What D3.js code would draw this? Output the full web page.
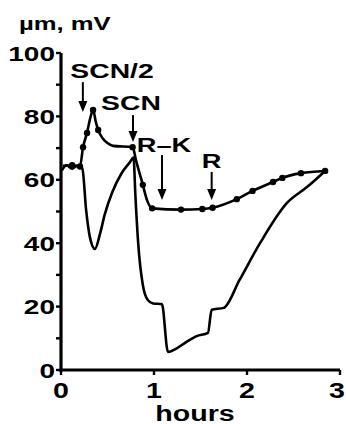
<!DOCTYPE html>
<style>
body { margin: 0; background: #fff; }
svg { display: block; }
.curve { fill: none; stroke: #000; stroke-width: 2.6px; stroke-linejoin: round; }
.lbl { font-family: "Liberation Sans", Arial, sans-serif; font-weight: bold; fill: #000; }
</style>
<svg width="346" height="424"></svg>
<script src="https://d3js.org/d3.v7.min.js"></script>
<script>

// fibre diameter (um), dotted curve
var diamT = [0.02, 0.12, 0.204, 0.237, 0.28, 0.31, 0.345, 0.375, 0.40, 0.445, 0.50, 0.56, 0.77, 0.806, 0.88, 0.925, 0.98, 1.29, 1.52, 1.63, 1.89, 2.06, 2.28, 2.38, 2.58, 2.84];
var diamV = [64.4, 64.6, 64.2, 70.3, 74.8, 78.9, 82, 78.2, 75.7, 73.2, 71.6, 70.7, 70.3, 66.2, 58.4, 53.6, 51, 50.6, 50.8, 51.2, 53.9, 56.5, 59.3, 60.6, 62.1, 62.8];
var diamDot = [0, 1, 1, 1, 1, 0, 1, 0, 1, 0, 0, 0, 1, 0, 1, 0, 1, 1, 1, 1, 1, 1, 1, 1, 1, 1];

// membrane potential (mV), plain curve
var mvT = [0.01, 0.06, 0.12, 0.18, 0.23, 0.27, 0.31, 0.365, 0.42, 0.47, 0.55, 0.65, 0.74, 0.78, 0.80, 0.83, 0.88, 0.935, 0.99, 1.085, 1.15, 1.23, 1.33, 1.46, 1.58, 1.62, 1.75, 1.92, 2.14, 2.43, 2.645, 2.84];
var mvV = [63, 64.6, 63.5, 64.5, 63.5, 50.5, 42, 38.2, 43, 49, 56, 62, 65.5, 67, 55, 40, 26.8, 22, 21, 20.8, 5.7, 6.6, 8.5, 10.7, 11.7, 19, 19.6, 28.4, 40, 52.7, 57.7, 62.8];

// annotations: label, time of arrow, arrow top / tip (axis units)
var noteLabel = ["SCN/2", "SCN", "R\u2013K", "R"];
var noteT = [0.235, 0.774, 1.086, 1.62];
var noteTop = [90.8, 80.4, 67.8, 62.5];
var noteTip = [81.4, 71.9, 53.6, 53.6];

var xTicks = [0, 1, 2, 3];
var yTicks = [0, 20, 40, 60, 80, 100];
var yMinor = [10, 30, 50, 70, 90];

var svg = d3.select('svg');

var x = d3.scaleLinear().domain([0, 3]).range([61, 340]);
var y = d3.scaleLinear().domain([0, 100]).range([370, 53]);

function wideText(txt, px, py, size, anchor, sx) {
  return svg.append('text')
    .attr('class', 'lbl')
    .attr('transform', 'translate(' + px + ',' + py + ') scale(' + sx + ',1)')
    .attr('text-anchor', anchor)
    .style('font-size', size + 'px')
    .text(txt);
}

// axes
svg.append('line')
  .attr('x1', x(0)).attr('x2', x(0))
  .attr('y1', y(100)).attr('y2', y(0) + 1.5)
  .attr('stroke', '#000').attr('stroke-width', 3.2);
svg.append('line')
  .attr('x1', x(0) - 1.5).attr('x2', x(3))
  .attr('y1', y(0)).attr('y2', y(0))
  .attr('stroke', '#000').attr('stroke-width', 3.2);

svg.selectAll('.ytick')
  .data(yTicks.concat(yMinor))
  .enter().append('line')
  .attr('class', 'ytick')
  .attr('x1', x(0) - 5).attr('x2', x(0))
  .attr('y1', function(d) { return y(d); })
  .attr('y2', function(d) { return y(d); })
  .attr('stroke', '#000').attr('stroke-width', 2.4);

svg.selectAll('.xtick')
  .data(xTicks)
  .enter().append('line')
  .attr('class', 'xtick')
  .attr('x1', function(d) { return x(d); })
  .attr('x2', function(d) { return x(d); })
  .attr('y1', y(0)).attr('y2', y(0) + 5)
  .attr('stroke', '#000').attr('stroke-width', 2.4);

yTicks.forEach(function(d) {
  wideText(String(d), x(0) - 6, y(d) + 7.5, 20, 'end', 1.4);
});
xTicks.forEach(function(d, i) {
  // last label nudged so it stays inside the frame
  var px = i == xTicks.length - 1 ? x(d) - 3 : x(d);
  wideText(String(d), px, 398, 22, 'middle', 1.3);
});

wideText('hours', 195, 421, 22, 'middle', 1.3);
wideText('\u00b5m, mV', 19, 30, 19, 'start', 1.35);

// curves
var line = d3.line()
  .x(function(d) { return x(d[0]); })
  .y(function(d) { return y(d[1]); })
  .curve(d3.curveMonotoneX);

var mvData = mvT.map(function(t, i) { return [t, mvV[i]]; });
var diamData = diamT.map(function(t, i) { return [t, diamV[i]]; });

svg.append('path').attr('class', 'curve').attr('d', line(mvData));
svg.append('path').attr('class', 'curve').attr('d', line(diamData));

svg.selectAll('.dot')
  .data(diamData.filter(function(d, i) { return diamDot[i]; }))
  .enter().append('circle')
  .attr('class', 'dot')
  .attr('cx', function(d) { return x(d[0]); })
  .attr('cy', function(d) { return y(d[1]); })
  .attr('r', 3.2)
  .attr('fill', '#000');

// arrows + labels
noteLabel.forEach(function(lab, i) {
  var ax = x(noteT[i]), top = y(noteTop[i]), tip = y(noteTip[i]);
  svg.append('line')
    .attr('x1', ax).attr('x2', ax)
    .attr('y1', top).attr('y2', tip - 8)
    .attr('stroke', '#000').attr('stroke-width', 2);
  svg.append('path')
    .attr('d', 'M' + (ax - 4.5) + ',' + (tip - 11) + 'L' + (ax + 4.5) + ',' + (tip - 11) + 'L' + ax + ',' + tip + 'Z')
    .attr('fill', '#000');
});

wideText(noteLabel[0], 112, 78, 21, 'middle', 1.35);
wideText(noteLabel[1], 131, 110, 21, 'middle', 1.35);
wideText(noteLabel[2], 164, 152, 21, 'middle', 1.3);
wideText(noteLabel[3], x(noteT[3]), 168, 21, 'middle', 1.3);

</script>
